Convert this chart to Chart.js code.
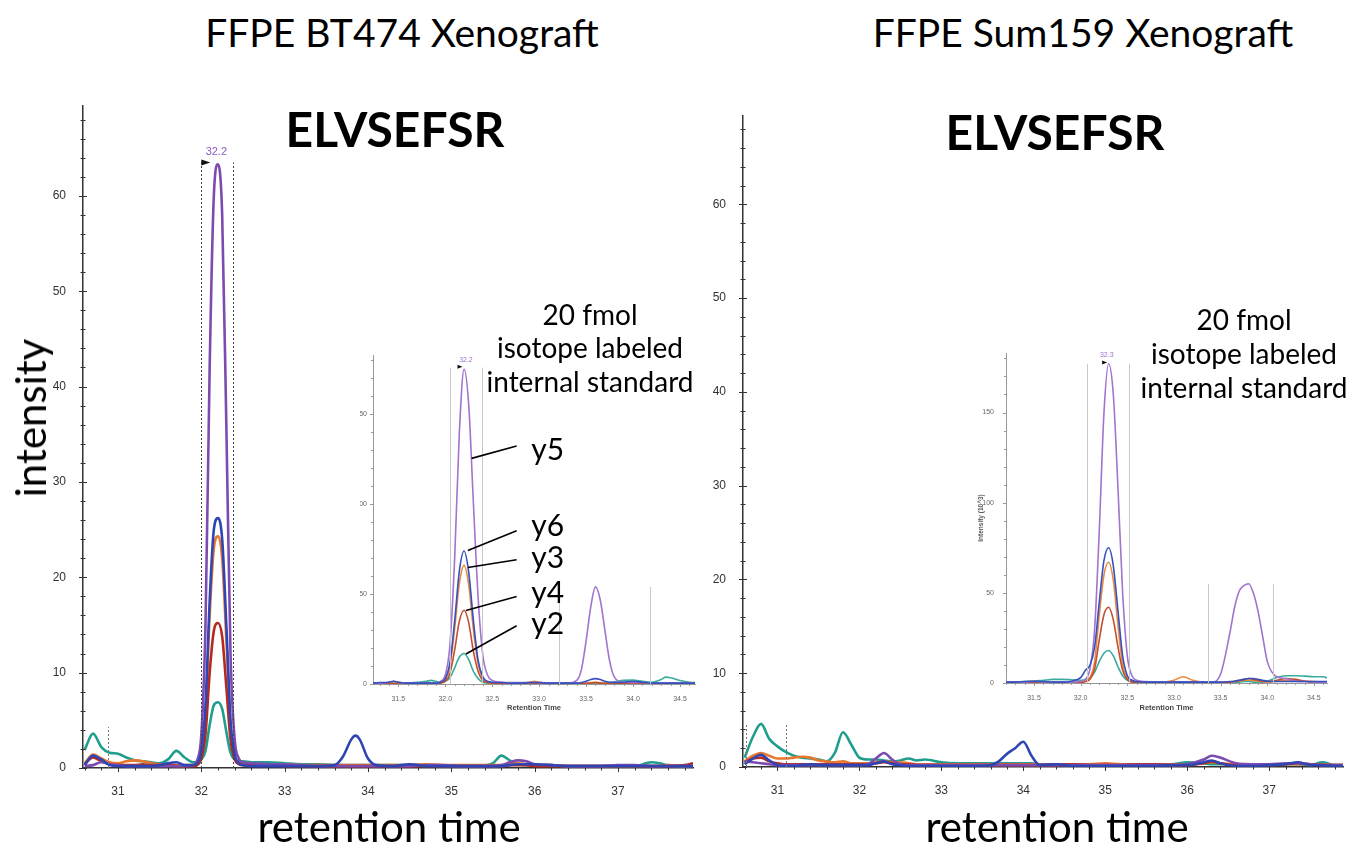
<!DOCTYPE html>
<html>
<head>
<meta charset="utf-8">
<script src="https://cdn.jsdelivr.net/npm/chart.js@4.4.1/dist/chart.umd.min.js"></script>
<style>
  body { margin: 0; background: #fff; }
  #page { position: relative; width: 1361px; height: 847px; overflow: hidden; font-family: Lato, 'Open Sans', sans-serif; }
  canvas { position: absolute; }
  .txt { position: absolute; transform: translate(-50%, -50%); white-space: nowrap; line-height: 1; color: #000; }
</style>
</head>
<body>
<div id="page">
  <canvas id="mainL" width="710" height="720" style="left:0;top:90px"></canvas>
  <canvas id="mainR" width="700" height="710" style="left:660px;top:100px"></canvas>
  <canvas id="insetL" width="345" height="370" style="left:360px;top:345px"></canvas>
  <canvas id="insetR" width="370" height="372" style="left:965px;top:343px"></canvas>

  <div class="txt" style="left:402px;top:32px;font-size:39px">FFPE BT474 Xenograft</div>
  <div class="txt" style="left:1083px;top:32px;font-size:39px">FFPE Sum159 Xenograft</div>
  <div class="txt" style="left:395px;top:129px;font-size:48px;font-weight:bold">ELVSEFSR</div>
  <div class="txt" style="left:1055px;top:132px;font-size:48px;font-weight:bold">ELVSEFSR</div>
  <div class="txt" style="left:30px;top:418px;font-size:42px;transform:translate(-50%,-50%) rotate(-90deg)">intensity</div>
  <div class="txt" style="left:389px;top:826px;font-size:42px">retention time</div>
  <div class="txt" style="left:1057px;top:826px;font-size:42px">retention time</div>

  <div class="txt" style="left:590px;top:314px;font-size:28px">20 fmol</div>
  <div class="txt" style="left:590px;top:347px;font-size:28px">isotope labeled</div>
  <div class="txt" style="left:590px;top:381px;font-size:28px">internal standard</div>
  <div class="txt" style="left:1244px;top:319px;font-size:28px">20 fmol</div>
  <div class="txt" style="left:1244px;top:353px;font-size:28px">isotope labeled</div>
  <div class="txt" style="left:1244px;top:387px;font-size:28px">internal standard</div>
</div>

<script>
// ===== DATA: FFPE BT474 xenograft (main trace) =====
const RT_BT474 = [30.6, 30.7, 30.8, 30.9, 31.0, 31.1, 31.2, 31.3, 31.4, 31.5,
  31.6, 31.7, 31.8, 31.9, 31.95, 32.0, 32.05, 32.1, 32.15, 32.2,
  32.25, 32.3, 32.35, 32.4, 32.45, 32.5, 32.6, 32.8, 33.0, 33.2,
  33.4, 33.6, 33.7, 33.8, 33.85, 33.9, 34.0, 34.1, 34.3, 34.5,
  34.7, 34.9, 35.1, 35.3, 35.5, 35.6, 35.7, 35.8, 35.9, 36.0,
  36.2, 36.4, 36.6, 36.8, 37.0, 37.2, 37.4, 37.5, 37.6, 37.8, 37.9];
const Y2_BT474 = [1.9, 3.6, 2.2, 1.6, 1.5, 1.1, 0.8, 0.7, 0.6, 0.5,
  0.9, 1.8, 1.1, 0.6, 0.6, 0.9, 1.8, 4.5, 6.6, 6.9,
  6.2, 3.8, 1.6, 0.9, 0.7, 0.7, 0.6, 0.6, 0.5, 0.4,
  0.4, 0.3, 0.3, 0.3, 0.3, 0.3, 0.3, 0.3, 0.3, 0.3,
  0.3, 0.2, 0.2, 0.2, 0.5, 1.3, 0.8, 0.4, 0.3, 0.3,
  0.3, 0.2, 0.2, 0.2, 0.2, 0.2, 0.6, 0.5, 0.3, 0.2, 0.2];
const Y3_BT474 = [0.5, 1.4, 1.0, 0.6, 0.5, 0.7, 0.8, 0.7, 0.5, 0.4,
  0.4, 0.3, 0.3, 0.3, 0.4, 1.5, 5.5, 16, 23, 24.3,
  22, 13.5, 4.5, 1.3, 0.6, 0.5, 0.4, 0.4, 0.4, 0.3,
  0.3, 0.3, 0.3, 0.3, 0.3, 0.3, 0.3, 0.3, 0.3, 0.3,
  0.4, 0.3, 0.3, 0.3, 0.3, 0.3, 0.4, 0.5, 0.4, 0.3,
  0.3, 0.2, 0.2, 0.2, 0.2, 0.2, 0.2, 0.2, 0.3, 0.2, 0.3];
const Y4_BT474 = [0.4, 1.1, 0.7, 0.4, 0.3, 0.3, 0.3, 0.4, 0.3, 0.3,
  0.3, 0.2, 0.2, 0.2, 0.3, 1.0, 3.5, 10, 14.4, 15.2,
  13.8, 8.5, 3, 0.9, 0.4, 0.3, 0.3, 0.3, 0.2, 0.2,
  0.2, 0.2, 0.2, 0.2, 0.2, 0.2, 0.2, 0.2, 0.2, 0.2,
  0.2, 0.2, 0.2, 0.2, 0.2, 0.2, 0.3, 0.3, 0.3, 0.2,
  0.2, 0.2, 0.2, 0.2, 0.2, 0.2, 0.2, 0.2, 0.2, 0.3, 0.5];
const Y5_BT474 = [0.2, 0.3, 0.6, 0.4, 0.3, 0.2, 0.2, 0.2, 0.2, 0.2,
  0.2, 0.2, 0.2, 0.3, 0.8, 3.5, 15, 42, 60, 63.3,
  58, 36, 12, 3, 1, 0.6, 0.5, 0.4, 0.4, 0.3,
  0.2, 0.2, 0.2, 0.2, 0.2, 0.2, 0.2, 0.2, 0.2, 0.2,
  0.3, 0.3, 0.2, 0.2, 0.2, 0.3, 0.6, 0.8, 0.7, 0.4,
  0.3, 0.2, 0.2, 0.2, 0.3, 0.3, 0.2, 0.2, 0.2, 0.2, 0.2];
const Y6_BT474 = [0.3, 1.3, 0.9, 0.3, 0.2, 0.2, 0.2, 0.2, 0.2, 0.3,
  0.5, 0.6, 0.3, 0.3, 0.5, 1.8, 6.5, 17.5, 25, 26.2,
  24, 15, 5, 1.4, 0.5, 0.3, 0.2, 0.2, 0.2, 0.2,
  0.2, 0.3, 1.2, 3.0, 3.4, 3.0, 1.0, 0.3, 0.2, 0.4,
  0.2, 0.2, 0.2, 0.2, 0.2, 0.2, 0.3, 0.4, 0.4, 0.4,
  0.3, 0.2, 0.2, 0.2, 0.2, 0.2, 0.2, 0.2, 0.2, 0.2, 0.2];

// ===== DATA: FFPE Sum159 xenograft (main trace) =====
const RT_SUM159 = [30.6, 30.7, 30.8, 30.9, 31.0, 31.1, 31.2, 31.3, 31.4, 31.5,
  31.6, 31.7, 31.8, 31.9, 32.0, 32.1, 32.2, 32.3, 32.4, 32.5,
  32.6, 32.7, 32.8, 33.0, 33.2, 33.4, 33.6, 33.7, 33.8, 33.9,
  34.0, 34.1, 34.2, 34.4, 34.6, 34.8, 35.0, 35.2, 35.4, 35.6,
  35.8, 36.0, 36.2, 36.3, 36.4, 36.6, 36.8, 37.0, 37.2, 37.35,
  37.5, 37.65, 37.8, 37.9];
const Y2_SUM159 = [1.0, 3.2, 4.6, 3.0, 2.2, 1.6, 1.2, 1.0, 0.9, 0.8,
  0.6, 1.5, 3.7, 2.4, 1.0, 0.8, 0.8, 0.7, 0.6, 0.7,
  0.9, 0.7, 0.8, 0.5, 0.4, 0.4, 0.4, 0.4, 0.4, 0.4,
  0.4, 0.4, 0.3, 0.3, 0.3, 0.3, 0.3, 0.3, 0.3, 0.3,
  0.3, 0.5, 0.4, 0.3, 0.3, 0.3, 0.3, 0.3, 0.3, 0.3,
  0.2, 0.5, 0.2, 0.2];
const Y3_SUM159 = [0.6, 1.2, 1.5, 1.2, 0.9, 0.9, 1.0, 1.1, 1.0, 0.7,
  0.6, 0.5, 0.6, 0.4, 0.4, 0.4, 0.5, 0.6, 0.5, 0.5,
  0.4, 0.3, 0.3, 0.3, 0.3, 0.3, 0.3, 0.3, 0.3, 0.3,
  0.3, 0.3, 0.3, 0.3, 0.3, 0.3, 0.4, 0.3, 0.3, 0.3,
  0.3, 0.3, 0.4, 0.5, 0.4, 0.3, 0.3, 0.3, 0.3, 0.3,
  0.3, 0.3, 0.2, 0.2];
const Y4_SUM159 = [0.5, 0.9, 1.0, 0.6, 0.4, 0.3, 0.3, 0.3, 0.3, 0.3,
  0.3, 0.3, 0.3, 0.3, 0.3, 0.3, 0.4, 0.5, 0.4, 0.3,
  0.3, 0.2, 0.2, 0.2, 0.2, 0.2, 0.2, 0.2, 0.2, 0.2,
  0.2, 0.2, 0.2, 0.2, 0.3, 0.2, 0.2, 0.2, 0.3, 0.3,
  0.2, 0.2, 0.4, 0.6, 0.4, 0.2, 0.2, 0.2, 0.3, 0.4,
  0.3, 0.2, 0.2, 0.2];
const Y5_SUM159 = [0.6, 0.5, 0.4, 0.3, 0.2, 0.2, 0.2, 0.2, 0.2, 0.2,
  0.2, 0.2, 0.2, 0.2, 0.2, 0.3, 0.9, 1.5, 0.8, 0.3,
  0.2, 0.2, 0.2, 0.2, 0.2, 0.2, 0.2, 0.2, 0.2, 0.2,
  0.2, 0.2, 0.2, 0.2, 0.2, 0.2, 0.2, 0.2, 0.2, 0.2,
  0.2, 0.3, 0.8, 1.2, 1.0, 0.4, 0.3, 0.3, 0.4, 0.4,
  0.3, 0.2, 0.2, 0.2];
const Y6_SUM159 = [0.3, 0.9, 1.3, 0.7, 0.2, 0.1, 0.1, 0.2, 0.3, 0.2,
  0.2, 0.2, 0.2, 0.2, 0.2, 0.2, 0.4, 0.6, 0.3, 0.2,
  0.1, 0.1, 0.1, 0.1, 0.1, 0.1, 0.2, 0.6, 1.4, 2.0,
  2.7, 1.2, 0.2, 0.3, 0.1, 0.1, 0.1, 0.1, 0.1, 0.1,
  0.2, 0.2, 0.5, 0.7, 0.4, 0.1, 0.1, 0.2, 0.3, 0.5,
  0.2, 0.2, 0.1, 0.1];

// ===== DATA: 20 fmol isotope labeled internal standard (insets, 10^3) =====
const RT_BT474_IS = [31.23, 31.3, 31.4, 31.45, 31.5, 31.6, 31.7, 31.8, 31.85, 31.9,
  31.95, 32.0, 32.05, 32.1, 32.15, 32.2, 32.25, 32.3, 32.35, 32.4,
  32.45, 32.5, 32.6, 32.7, 32.8, 32.9, 32.95, 33.0, 33.1, 33.2,
  33.3, 33.4, 33.45, 33.5, 33.55, 33.6, 33.65, 33.7, 33.75, 33.8,
  33.9, 34.0, 34.1, 34.2, 34.3, 34.35, 34.4, 34.5, 34.6, 34.66];
const Y2_BT474_IS = [0.3, 0.3, 0.3, 0.3, 0.3, 0.5, 1, 1.5, 2, 1.5,
  1, 1.5, 3.5, 9, 15, 17, 13.5, 7, 3, 1,
  0.5, 0.3, 0.3, 0.3, 0.3, 0.3, 0.3, 0.3, 0.3, 0.3,
  0.3, 0.3, 0.3, 0.3, 0.3, 0.3, 0.3, 0.5, 0.8, 1.2,
  2, 2.2, 1.5, 1, 2.5, 3.8, 3.5, 2, 1, 0.8];
const Y3_BT474_IS = [0.3, 0.3, 0.3, 0.5, 0.3, 0.3, 0.3, 0.3, 0.3, 0.3,
  0.8, 2.5, 10, 31, 56, 66, 55, 30, 11, 3,
  1, 0.5, 0.5, 0.5, 0.5, 1, 1.5, 1, 0.5, 0.3,
  0.3, 0.3, 0.3, 0.5, 0.8, 1, 0.8, 0.5, 0.5, 0.5,
  0.5, 0.8, 0.5, 0.3, 0.3, 0.3, 0.3, 0.3, 0.3, 0.3];
const Y4_BT474_IS = [0.3, 0.3, 0.3, 0.3, 0.3, 0.3, 0.3, 0.3, 0.3, 0.3,
  0.5, 1.5, 6, 19, 35, 41, 34, 18, 7, 2,
  0.8, 0.5, 0.3, 0.3, 0.3, 0.5, 0.5, 0.5, 0.3, 0.3,
  0.3, 0.3, 0.3, 0.3, 0.5, 0.8, 0.5, 0.3, 0.3, 0.3,
  0.3, 0.5, 0.3, 0.3, 0.3, 0.3, 0.3, 0.3, 0.3, 0.3];
const Y5_BT474_IS = [0.5, 0.5, 1, 1.5, 1, 0.5, 0.5, 0.5, 0.5, 0.5,
  1.5, 5, 22, 70, 140, 175, 155, 100, 48, 16,
  5, 2, 1, 0.8, 0.8, 0.8, 0.8, 0.8, 0.5, 0.5,
  0.5, 2, 8, 24, 43, 54, 47, 30, 13, 4,
  1, 0.8, 0.8, 0.5, 0.5, 0.5, 0.5, 0.5, 0.5, 0.5];
const Y6_BT474_IS = [0.5, 0.8, 1, 1.5, 1, 0.5, 0.5, 0.5, 0.5, 0.5,
  1, 3, 12, 35, 63, 74, 62, 35, 13, 4,
  1.5, 1, 0.8, 0.5, 0.5, 0.8, 0.8, 0.8, 0.5, 0.5,
  0.5, 0.5, 0.8, 1.5, 2.5, 3, 2.5, 1.5, 1, 0.8,
  1, 1.5, 1, 0.5, 0.5, 0.5, 0.5, 0.5, 0.5, 0.5];

const RT_SUM159_IS = [31.2, 31.3, 31.4, 31.5, 31.6, 31.7, 31.8, 31.9, 32.0, 32.05,
  32.1, 32.15, 32.2, 32.25, 32.3, 32.35, 32.4, 32.45, 32.5, 32.55,
  32.6, 32.7, 32.8, 32.9, 33.0, 33.1, 33.2, 33.3, 33.4, 33.5,
  33.6, 33.65, 33.7, 33.75, 33.8, 33.85, 33.9, 33.95, 34.0, 34.1,
  34.2, 34.3, 34.4, 34.5, 34.6, 34.64];
const Y2_SUM159_IS = [0.3, 0.5, 0.8, 1, 1.5, 2, 2, 1.8, 1.5, 2,
  3, 6, 12, 16.5, 18, 15, 9, 4, 1.5, 0.8,
  0.5, 0.3, 0.3, 0.3, 0.3, 0.3, 0.3, 0.3, 0.3, 0.3,
  0.3, 0.5, 0.5, 0.8, 0.8, 0.5, 0.5, 0.5, 1, 3,
  4, 4, 3.8, 3.5, 3.5, 2.8];
const Y3_SUM159_IS = [0.3, 0.3, 0.3, 0.3, 0.3, 0.3, 0.3, 0.3, 0.5, 1,
  3, 12, 38, 60, 67, 57, 32, 10, 2.5, 0.8,
  0.5, 0.3, 0.3, 0.5, 1.5, 3.5, 1.5, 0.5, 0.3, 0.3,
  0.5, 0.8, 1, 1.5, 1.5, 1.5, 1, 0.8, 0.5, 1,
  1.5, 1.5, 1, 0.8, 0.5, 0.5];
const Y4_SUM159_IS = [0.3, 0.3, 0.3, 0.3, 0.3, 0.3, 0.3, 0.3, 0.3, 0.8,
  2, 8, 24, 38, 42, 35, 20, 7, 2, 0.5,
  0.3, 0.3, 0.3, 0.3, 0.3, 0.3, 0.3, 0.3, 0.3, 0.3,
  0.5, 1, 1.5, 2, 2.5, 2, 1.5, 1, 0.8, 1.5,
  2.5, 2, 1, 0.5, 0.3, 0.3];
const Y5_SUM159_IS = [0.5, 0.5, 0.5, 1, 0.5, 0.5, 0.5, 0.5, 1, 2,
  8, 30, 85, 150, 177, 160, 108, 50, 15, 4,
  1.5, 0.8, 0.5, 0.5, 0.5, 0.5, 0.5, 0.5, 0.5, 5,
  28, 42, 51, 54, 55, 50, 40, 26, 12, 3.5,
  2.5, 1, 0.8, 0.5, 0.5, 0.5];
const Y6_SUM159_IS = [0.5, 0.5, 0.8, 1, 0.8, 0.5, 0.5, 1, 3, 7,
  10, 20, 45, 68, 75, 65, 40, 15, 4, 1.5,
  0.8, 0.5, 0.5, 0.5, 0.5, 0.5, 0.5, 0.5, 0.5, 0.5,
  0.8, 1, 1.5, 2, 2.5, 2.5, 2, 1.5, 1, 0.8,
  0.8, 0.8, 0.8, 0.8, 0.8, 0.8];

// integration window / peak markers
const WINDOW_BT474 = [32.0, 32.38];
const WINDOW_TOP_BT474 = 63.5;
const MARK_BT474 = [30.88];
const MARK_SUM159 = [30.62, 31.11];
const MARK_TOP = [4.3, 4.6];
const BOUNDS_BT474_IS = [32.05, 32.39, 33.21, 34.18];
const BOUNDS_TOP_BT474_IS = [176, 176, 54, 54];
const BOUNDS_SUM159_IS = [32.07, 32.52, 33.37, 34.06];
const BOUNDS_TOP_SUM159_IS = [177, 177, 55, 55];

// transition callouts on the BT474 inset (inset data units)
const CALLOUT_IONS = ['y5', 'y6', 'y3', 'y4', 'y2'];
const CALLOUT_LABEL_Y = [130, 87.6, 70, 50.6, 33];
const CALLOUT_FROM_Y = [132.4, 85.2, 69.1, 48.7, 32.4];
const CALLOUT_TO_X = [32.28, 32.24, 32.24, 32.22, 32.22];
const CALLOUT_TO_Y = [125.5, 74.2, 64.8, 40.9, 16.7];

const IONS = ['y6', 'y5', 'y4', 'y3', 'y2'];
const MAIN_COLORS = { y2: '#1f9e8e', y3: '#e8772e', y4: '#b42a1e', y5: '#7d4bb0', y6: '#2f45b5' };
const INSET_COLORS = { y2: '#3aab9c', y3: '#ea8a3c', y4: '#c24e30', y5: '#a273cf', y6: '#3550c0' };

Chart.defaults.font.family = "'Liberation Sans', Arial, sans-serif";

const isStep = (v, s) => Math.abs(v / s - Math.round(v / s)) < 1e-6;

// draws axis tick marks, dotted windows, arrows, peak labels and callouts
const marks = {
    id: 'marks',
    afterDraw(chart, args, o) {
        const { ctx, scales: { x, y } } = chart;
        ctx.save();
        if (o.ticks) {
            const t = o.ticks;
            ctx.strokeStyle = t.color;
            ctx.lineWidth = 1;
            y.ticks.forEach(tk => {
                const py = Math.round(y.getPixelForValue(tk.value)) + 0.5;
                const len = isStep(tk.value, t.yMajor) ? t.major : t.minor;
                ctx.beginPath();
                ctx.moveTo(x.left - len, py);
                ctx.lineTo(x.left + (t.cross ? len : 0), py);
                ctx.stroke();
            });
            x.ticks.forEach(tk => {
                const px = Math.round(x.getPixelForValue(tk.value)) + 0.5;
                const len = isStep(tk.value, t.xMajor) ? t.major : t.minor;
                ctx.beginPath();
                ctx.moveTo(px, y.bottom);
                ctx.lineTo(px, y.bottom + len);
                ctx.stroke();
            });
            // y labels that the axis box would clip (narrow inset axis)
            if (t.yLabels) {
                ctx.fillStyle = t.labelColor;
                ctx.font = t.labelSize + 'px "Liberation Sans", Arial';
                ctx.textAlign = 'right';
                ctx.textBaseline = 'middle';
                y.ticks.forEach(tk => {
                    if (isStep(tk.value, t.yMajor)) {
                        ctx.fillText(String(Math.round(tk.value)), x.left - t.yLabelGap, y.getPixelForValue(tk.value));
                    }
                });
            }
        }
        (o.lines || []).forEach(l => {
            const px = Math.round(x.getPixelForValue(l.x)) + 0.5;
            ctx.strokeStyle = l.color;
            ctx.lineWidth = 1;
            ctx.setLineDash(l.dash || []);
            ctx.beginPath();
            ctx.moveTo(px, y.getPixelForValue(0));
            ctx.lineTo(px, y.getPixelForValue(l.top));
            ctx.stroke();
        });
        ctx.setLineDash([]);
        if (o.arrow) {
            const a = o.arrow;
            const px = x.getPixelForValue(a.x), py = y.getPixelForValue(a.y);
            ctx.fillStyle = '#111';
            ctx.beginPath();
            ctx.moveTo(px, py - a.h / 2);
            ctx.lineTo(px + a.w, py);
            ctx.lineTo(px, py + a.h / 2);
            ctx.closePath();
            ctx.fill();
        }
        if (o.peak) {
            const p = o.peak;
            ctx.fillStyle = p.color;
            ctx.font = p.size + 'px "Liberation Sans", Arial';
            ctx.textAlign = 'center';
            ctx.textBaseline = 'middle';
            ctx.fillText(p.text, x.getPixelForValue(p.x), y.getPixelForValue(p.y));
        }
        (o.callouts || []).forEach(c => {
            ctx.strokeStyle = '#000';
            ctx.lineWidth = 1.6;
            ctx.beginPath();
            ctx.moveTo(x.getPixelForValue(c.fromX), y.getPixelForValue(c.fromY));
            ctx.lineTo(x.getPixelForValue(c.toX), y.getPixelForValue(c.toY));
            ctx.stroke();
            ctx.fillStyle = '#000';
            ctx.font = '30px Lato, sans-serif';
            ctx.textAlign = 'center';
            ctx.textBaseline = 'middle';
            ctx.fillText(c.text, x.getPixelForValue(c.x), y.getPixelForValue(c.y));
        });
        ctx.restore();
    }
};

function datasetsFor(times, valuesByIon, colors, width) {
    return IONS.map(ion => ({
        label: ion,
        data: times.map((t, i) => ({ x: t, y: valuesByIon[ion][i] })),
        borderColor: colors[ion],
        borderWidth: width,
        pointRadius: 0,
        fill: false,
        cubicInterpolationMode: 'monotone'
    }));
}

function makeChart(id, datasets, cfg) {
    return new Chart(document.getElementById(id), {
        type: 'line',
        data: { datasets },
        options: {
            responsive: false,
            animation: false,
            devicePixelRatio: 1,
            layout: { padding: cfg.pad },
            plugins: { legend: { display: false }, tooltip: { enabled: false }, marks: cfg.marks },
            scales: {
                x: {
                    type: 'linear', min: cfg.xMin, max: cfg.xMax,
                    grid: { display: false },
                    border: { color: cfg.axisColor, width: cfg.axisWidth },
                    ticks: {
                        stepSize: cfg.xStep, autoSkip: false, includeBounds: false, maxRotation: 0,
                        padding: cfg.xPad, color: cfg.tickColor, font: { size: cfg.tickSize },
                        callback: v => isStep(v, cfg.xLabelStep) ? v.toFixed(cfg.xDecimals) : ''
                    },
                    title: cfg.xTitle || { display: false },
                    afterFit: s => { s.height = cfg.xHeight; }
                },
                y: {
                    min: 0, max: cfg.yMax,
                    grid: { display: false },
                    border: { color: cfg.axisColor, width: cfg.axisWidth },
                    ticks: {
                        display: cfg.yTicksShown !== false,
                        stepSize: cfg.yStep, autoSkip: false, includeBounds: false,
                        padding: cfg.yPad, color: cfg.tickColor, font: { size: cfg.tickSize },
                        callback: v => isStep(v, cfg.yLabelStep) ? Math.round(v) : ''
                    },
                    title: cfg.yTitle || { display: false },
                    afterFit: s => { s.width = cfg.yWidth; }
                }
            }
        },
        plugins: [marks]
    });
}

const mainBase = {
    xMin: 30.58, xMax: 37.9, xStep: 0.2, xLabelStep: 1, xDecimals: 0, xPad: 8,
    yMax: 69.4, yStep: 2, yLabelStep: 10, yPad: 9, yWidth: 83,
    axisColor: '#333', axisWidth: 1.5, tickColor: '#333', tickSize: 12
};
const mainTicks = { color: '#333', yMajor: 10, xMajor: 1, major: 4, minor: 2.5, cross: true };

makeChart('mainL', datasetsFor(RT_BT474,
    { y2: Y2_BT474, y3: Y3_BT474, y4: Y4_BT474, y5: Y5_BT474, y6: Y6_BT474 }, MAIN_COLORS, 2.6),
    Object.assign({}, mainBase, {
        pad: { top: 10, right: 17, left: 0, bottom: 0 }, xHeight: 42,
        marks: {
            ticks: mainTicks,
            lines: WINDOW_BT474.map(x => ({ x, top: WINDOW_TOP_BT474, color: '#444', dash: [2, 2] }))
                .concat(MARK_BT474.map(x => ({ x, top: MARK_TOP[0], color: '#777', dash: [2, 2] }))),
            arrow: { x: WINDOW_BT474[0], y: WINDOW_TOP_BT474, w: 9, h: 6 },
            peak: { text: '32.2', x: 32.18, y: 64.6, color: '#8a5cc2', size: 11 }
        }
    }));

makeChart('mainR', datasetsFor(RT_SUM159,
    { y2: Y2_SUM159, y3: Y3_SUM159, y4: Y4_SUM159, y5: Y5_SUM159, y6: Y6_SUM159 }, MAIN_COLORS, 2.6),
    Object.assign({}, mainBase, {
        pad: { top: 13, right: 17, left: 0, bottom: 0 }, xHeight: 43,
        marks: {
            ticks: mainTicks,
            lines: MARK_SUM159.map(x => ({ x, top: MARK_TOP[1], color: '#777', dash: [2, 2] }))
        }
    }));

const insetBase = {
    xStep: 0.1, xLabelStep: 0.5, xDecimals: 1, xPad: 3,
    yMax: 183, yStep: 10, yLabelStep: 50, yPad: 4,
    axisColor: '#999', axisWidth: 1, tickColor: '#666', tickSize: 7,
    xTitle: { display: true, text: 'Retention Time', color: '#444', font: { size: 7.5, weight: 'bold' }, padding: { top: 2, bottom: 3 } }
};
const insetTicks = { color: '#999', yMajor: 50, xMajor: 0.5, major: 3, minor: 2, cross: false };

makeChart('insetL', datasetsFor(RT_BT474_IS,
    { y2: Y2_BT474_IS, y3: Y3_BT474_IS, y4: Y4_BT474_IS, y5: Y5_BT474_IS, y6: Y6_BT474_IS }, INSET_COLORS, 1.6),
    Object.assign({}, insetBase, {
        xMin: 31.23, xMax: 34.66, yWidth: 13, xHeight: 31, yTicksShown: false,
        pad: { top: 10, right: 10, left: 0, bottom: 0 },
        marks: {
            ticks: Object.assign({}, insetTicks, { yLabels: true, labelColor: '#666', labelSize: 7, yLabelGap: 6 }),
            lines: BOUNDS_BT474_IS.map((x, i) => ({ x, top: BOUNDS_TOP_BT474_IS[i], color: '#c8c8c8' })),
            arrow: { x: 32.13, y: 176.4, w: 5, h: 4 },
            peak: { text: '32.2', x: 32.22, y: 180, color: '#a273cf', size: 7 },
            callouts: CALLOUT_IONS.map((text, i) => ({
                text, x: 33.09, y: CALLOUT_LABEL_Y[i],
                fromX: 32.76, fromY: CALLOUT_FROM_Y[i],
                toX: CALLOUT_TO_X[i], toY: CALLOUT_TO_Y[i]
            }))
        }
    }));

makeChart('insetR', datasetsFor(RT_SUM159_IS,
    { y2: Y2_SUM159_IS, y3: Y3_SUM159_IS, y4: Y4_SUM159_IS, y5: Y5_SUM159_IS, y6: Y6_SUM159_IS }, INSET_COLORS, 1.6),
    Object.assign({}, insetBase, {
        xMin: 31.2, xMax: 34.64, yWidth: 41, xHeight: 32,
        pad: { top: 10, right: 8, left: 0, bottom: 0 },
        yTitle: { display: true, text: 'Intensity (10^3)', color: '#555', font: { size: 6.5, weight: 'bold' }, padding: { top: 12, bottom: 0 } },
        marks: {
            ticks: insetTicks,
            lines: BOUNDS_SUM159_IS.map((x, i) => ({ x, top: BOUNDS_TOP_SUM159_IS[i], color: '#c8c8c8' })),
            arrow: { x: 32.23, y: 177.8, w: 5, h: 4 },
            peak: { text: '32.3', x: 32.28, y: 182, color: '#a273cf', size: 7 }
        }
    }));
</script>
</body>
</html>
